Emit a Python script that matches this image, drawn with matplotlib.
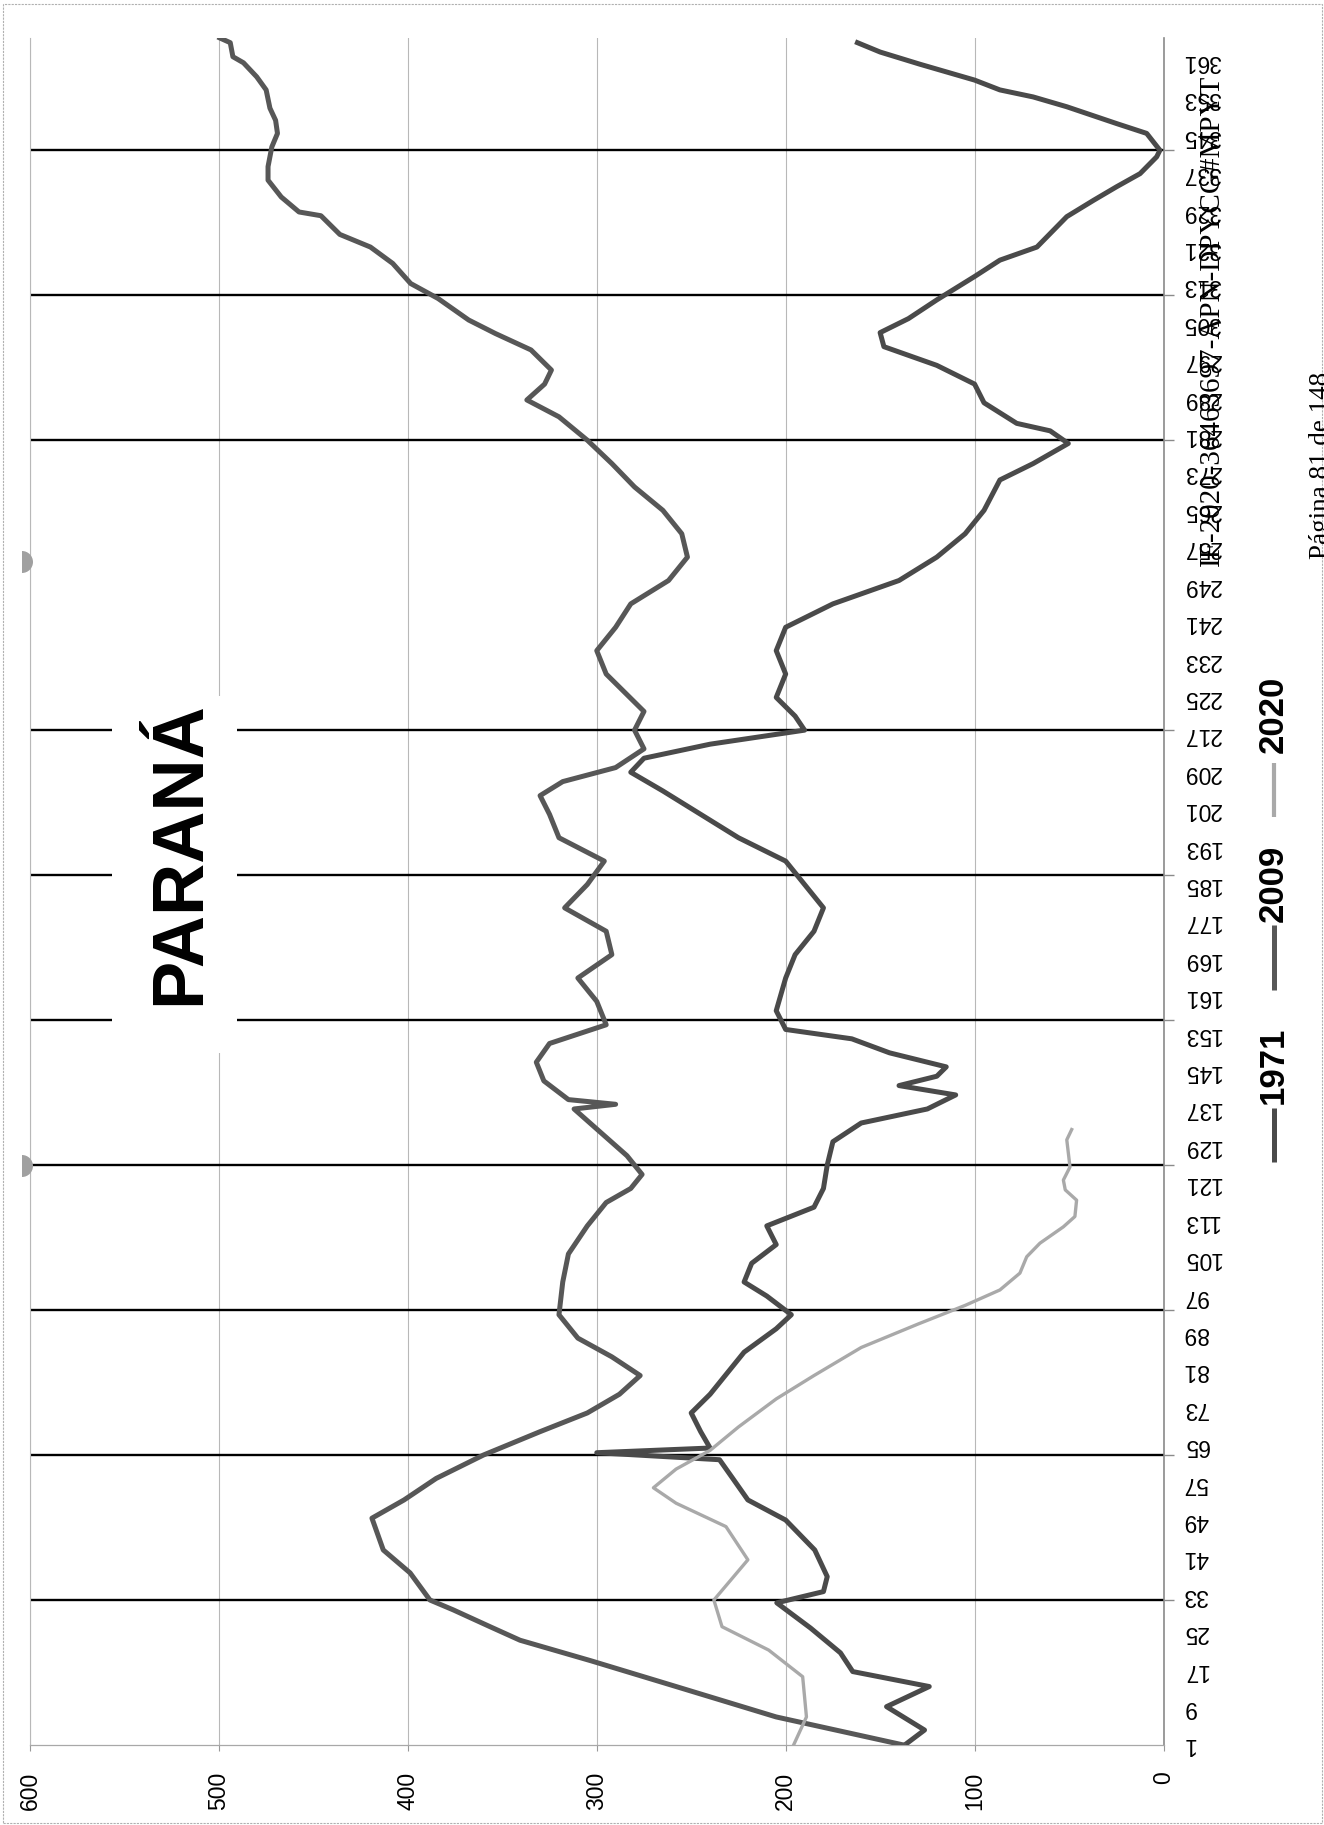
import matplotlib
matplotlib.use('Agg')
import matplotlib.pyplot as plt
from matplotlib import font_manager
from matplotlib.lines import Line2D
from matplotlib.patches import Rectangle, Wedge
from matplotlib.transforms import IdentityTransform

# ---------------- data (day of year, value) ----------------
days_2009 = [1, 7, 13.5, 19, 23.4, 26.3, 29.9, 32, 37.8, 42.7, 49.5, 53.4, 58, 63, 68, 72, 76, 80, 84,
             88, 93, 100, 106, 112, 117, 120, 123, 127, 132, 137, 138, 139, 143, 147, 151, 155, 160,
             165, 170, 175, 180, 185, 190, 195, 200, 204, 207, 210, 214, 218, 222, 226, 230, 235, 240,
             245, 250, 255, 260, 265, 270, 275, 280, 285, 288.6, 292, 295, 299.3, 302.8, 305.7, 310.3,
             313.5, 317.8, 321.3, 324, 328, 328.8, 332, 335.6, 338.5, 342.7, 345.6, 348.4, 351, 354.9,
             357.7, 360.7, 362, 365, 366]
vals_2009 = [137.6, 205, 258, 303, 340.6, 356.5, 376, 388.3, 398.8, 413, 419, 402, 385, 360, 330, 305,
             288, 277, 292, 310, 320, 318, 315, 305, 295, 282, 276, 284, 298, 312, 290, 315, 328, 332,
             325, 295, 300, 310, 292, 295, 317, 305, 296, 320, 325, 330, 318, 290, 275, 280, 275, 285,
             295, 300, 290, 282, 262, 252, 255, 265, 280, 292, 305, 320, 337, 327.6, 324, 334.8, 353.6,
             367.8, 384, 398.5, 408, 419.8, 436, 446, 457.6, 467, 474, 474, 472, 469, 470, 473, 475,
             480, 487, 492.6, 494, 499.5]

days_1971 = [1, 4.2, 9.2, 13.5, 16.7, 20.7, 26, 31.4, 33.8, 37, 42.7, 49.1, 53.4, 58, 62, 63.5, 64.5,
             68, 72, 76, 80, 85, 90, 93, 97, 100, 104, 108, 112, 116, 120, 125, 130, 134, 137, 140, 142,
             144, 146, 149, 152, 154, 158, 165, 170, 175, 180, 185, 190, 195, 200, 205, 209, 212, 215,
             218, 221, 225, 230, 235, 240, 245, 250, 255, 260, 265, 271.5, 275, 279.3, 282, 283.6, 288,
             292, 296, 300, 303, 306, 310, 315, 318.5, 321.3, 327.8, 331.3, 334.2, 337, 340.6, 342,
             345.6, 347.7, 351.3, 353.4, 354.9, 357, 360.4, 363, 365]
vals_1971 = [137, 126.5, 146.6, 124, 164.5, 171, 186.8, 204.7, 180, 178, 184.6, 200, 220, 228, 235, 300,
             240, 245, 250, 240, 232, 222, 205, 197, 210, 222, 218, 205, 210, 185, 180, 178, 175, 160,
             125, 110, 140, 120, 115, 145, 165, 200, 205, 200, 195, 185, 180, 190, 200, 225, 245, 265,
             282, 275, 240, 190, 195, 205, 200, 205, 200, 175, 140, 120, 105, 95, 86.6, 69, 50.4, 60,
             77.7, 95, 100, 120, 148, 150, 135, 120, 100, 86.6, 67, 51.2, 37, 24.8, 12.4, 3.6, 1.9, 8.9,
             24.8, 51.2, 69, 86.6, 100, 129, 150, 162]

days_2020 = [1, 7, 15.6, 21.3, 26.3, 32, 40.6, 47.7, 52.7, 56, 60, 64, 69, 75, 80, 86, 91, 95, 98.3,
             101.9, 105.4, 108.3, 111.8, 114, 117.5, 119.7, 121.8, 124.6, 130.4, 132.6]
vals_2020 = [195.8, 189, 191, 209, 233.7, 238, 220, 231.6, 258, 270, 258, 240, 225, 205, 185, 160, 130,
             105, 86.6, 76, 72.4, 65.4, 53, 46.9, 46, 52, 53, 49.5, 51.2, 48.6]

day_labels = list(range(1, 366, 8))
gridline_days = list(range(32, 366, 31))
value_ticks = [0, 100, 200, 300, 400, 500, 600]

series_names = ['1971', '2009', '2020']
series_colors = ['#4a4a4a', '#575757', '#a9a9a9']

# ---------------- figure ----------------
W, H = 1324, 1825
fig = plt.figure(figsize=(W / 100, H / 100), dpi=100)
fig.patch.set_facecolor('white')


def fx(px):
    return px / W


def fy(py):
    return 1 - py / H


installed = {f.name for f in font_manager.fontManager.ttflist}
narrow = 'Liberation Sans Narrow' in installed

ax_l, ax_r, ax_t, ax_b = 30, 1163.5, 38, 1745
ax = fig.add_axes([fx(ax_l), fy(ax_b), (ax_r - ax_l) / W, (ax_b - ax_t) / H])
ax.set_xlim(600, 0)
ax.set_ylim(1, 366)
ax.set_axisbelow(True)

lab_font = dict(family='Liberation Sans', size=16.5)

# day axis (right side, labels upside down)
ax.yaxis.tick_right()
ax.set_yticks(day_labels)
ax.set_yticklabels([str(d) for d in day_labels], rotation=180, **lab_font)
for t in ax.get_yticklabels():
    t.set_va('center')
    t.set_ha('left')
ax.set_yticks(gridline_days, minor=True)
ax.tick_params(axis='y', which='major', length=0, pad=14)
ax.tick_params(axis='y', which='minor', length=7, width=1, color='#8a8a8a', direction='out')
ax.grid(axis='y', which='minor', color='black', lw=1.7)

# value axis (bottom, labels rotated)
ax.set_xticks(value_ticks)
ax.set_xticklabels([str(v) for v in value_ticks], rotation=90, **lab_font)
ax.tick_params(axis='x', which='major', length=4, width=0.8, color='#999999', pad=15)
ax.grid(axis='x', which='major', color='#b8b8b8', lw=0.8)

ax.spines['top'].set_visible(False)
ax.spines['right'].set_color('#8a8a8a')
ax.spines['right'].set_linewidth(1.2)
ax.spines['bottom'].set_color('#a8a8a8')
ax.spines['bottom'].set_linewidth(0.9)
ax.spines['left'].set_color('#b8b8b8')
ax.spines['left'].set_linewidth(0.8)

# series
ax.plot(vals_1971, days_1971, color=series_colors[0], lw=3.6, solid_joinstyle='round', zorder=3)
ax.plot(vals_2009, days_2009, color=series_colors[1], lw=3.6, solid_joinstyle='round', zorder=3)
ax.plot(vals_2020, days_2020, color=series_colors[2], lw=2.4, solid_joinstyle='round', zorder=4)

# title with white box
fig.add_artist(Rectangle((fx(112), fy(1053)), (237 - 112) / W, (1053 - 696) / H,
                         transform=fig.transFigure, facecolor='white', edgecolor='none', zorder=5))
if narrow:
    fig.text(fx(180), fy(853), 'PARANÁ', rotation=90, ha='center', va='center', fontsize=61,
             fontweight='bold', family='Liberation Sans Narrow', zorder=6)
else:
    fig.text(fx(180), fy(853), 'PARANÁ', rotation=90, ha='center', va='center', fontsize=52,
             fontweight='bold', family='Liberation Sans', zorder=6)

# legend (rotated)
legend_items = [
    (series_names[0], (1027, 1103), (1108, 1162), series_colors[0], 3.6),
    (series_names[1], (848, 918), (925, 990), series_colors[1], 3.6),
    (series_names[2], (673, 755), (763, 817), series_colors[2], 3.0),
]
for name, (t0, t1), (s0, s1), col, lw in legend_items:
    fig.add_artist(Line2D([fx(1274), fx(1274)], [fy(s1), fy(s0)], transform=fig.transFigure,
                          color=col, lw=lw, solid_capstyle='butt'))
    fig.text(fx(1273), fy((t0 + t1) / 2), name, rotation=90, ha='center', va='center',
             fontsize=25, fontweight='bold', family='Liberation Sans')

# document stamp and footer
fig.text(fx(1212), fy(320), 'IF-2020-36463697-APN-DPYCG#MPYT', rotation=90, ha='center',
         va='center', fontsize=21, family='Liberation Serif')
fig.text(fx(1322), fy(465), 'Página 81 de 148', rotation=90, ha='center', va='center',
         fontsize=19.5, family='Liberation Serif')

# page border and punch-hole marks
fig.add_artist(Rectangle((fx(3), fy(1823)), (1322 - 3) / W, (1823 - 4) / H,
                         transform=fig.transFigure, facecolor='none', edgecolor='#b0b0b0',
                         lw=0.8, ls=(0, (2, 1))))
for cy in (562, 1166):
    fig.add_artist(Wedge((22, H - cy), 11, -90, 90, transform=IdentityTransform(),
                         facecolor='#a0a0a0', edgecolor='none'))

fig.savefig('out.png', dpi=100)
